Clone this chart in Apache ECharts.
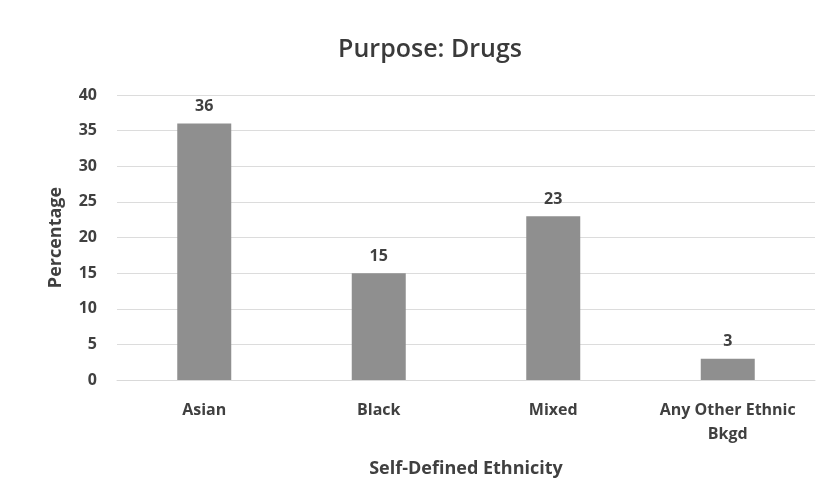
<!DOCTYPE html>
<html><head><meta charset="utf-8">
<script src="https://cdn.jsdelivr.net/npm/echarts@6/dist/echarts.min.js"></script>
<style>html,body{margin:0;padding:0;background:#fff;}#c{width:830px;height:501px;}</style>
</head><body><div id="c"></div>
<script>
const categories = ["Asian", "Black", "Mixed", "Any Other Ethnic\nBkgd"];
const values = [36, 15, 23, 3];
const yTicks = {min: 0, max: 40, interval: 5};

const chart = echarts.init(document.getElementById('c'));
chart.setOption({
  animation: false,
  backgroundColor: '#ffffff',
  title: {
    text: 'Purpose: Drugs', left: 425, top: 32, textAlign: 'center',
    textStyle: {fontFamily: 'Open Sans', fontSize: 25, fontWeight: 600, color: '#3a3a3a'}
  },
  grid: {left: 117, right: 15, top: 95, bottom: 121},
  xAxis: {
    type: 'category', data: categories,
    name: 'Self-Defined Ethnicity', nameLocation: 'middle', nameGap: 80,
    nameTextStyle: {fontFamily: 'Open Sans', fontSize: 18, fontWeight: 'bold', color: '#404040'},
    axisLine: {show: true, lineStyle: {color: '#d9d9d9'}},
    axisTick: {show: false},
    axisLabel: {interval: 0, hideOverlap: false, fontFamily: 'Open Sans', fontSize: 16, fontWeight: 'bold', color: '#404040', margin: 18, lineHeight: 24}
  },
  yAxis: {
    type: 'value', min: yTicks.min, max: yTicks.max, interval: yTicks.interval,
    name: 'Percentage', nameLocation: 'middle', nameGap: 52, nameRotate: 90,
    nameTextStyle: {fontFamily: 'Open Sans', fontSize: 18, fontWeight: 'bold', color: '#404040'},
    axisLine: {show: false}, axisTick: {show: false},
    axisLabel: {fontFamily: 'Open Sans', fontSize: 16, fontWeight: 'bold', color: '#404040', margin: 20},
    splitLine: {lineStyle: {color: '#dcdcdc', width: 1}}
  },
  series: [{
    type: 'bar', data: values, barWidth: 54,
    itemStyle: {color: '#8f8f8f'},
    label: {show: true, position: 'top', distance: 9, fontFamily: 'Open Sans', fontSize: 16, fontWeight: 'bold', color: '#404040'}
  }]
});
</script></body></html>
